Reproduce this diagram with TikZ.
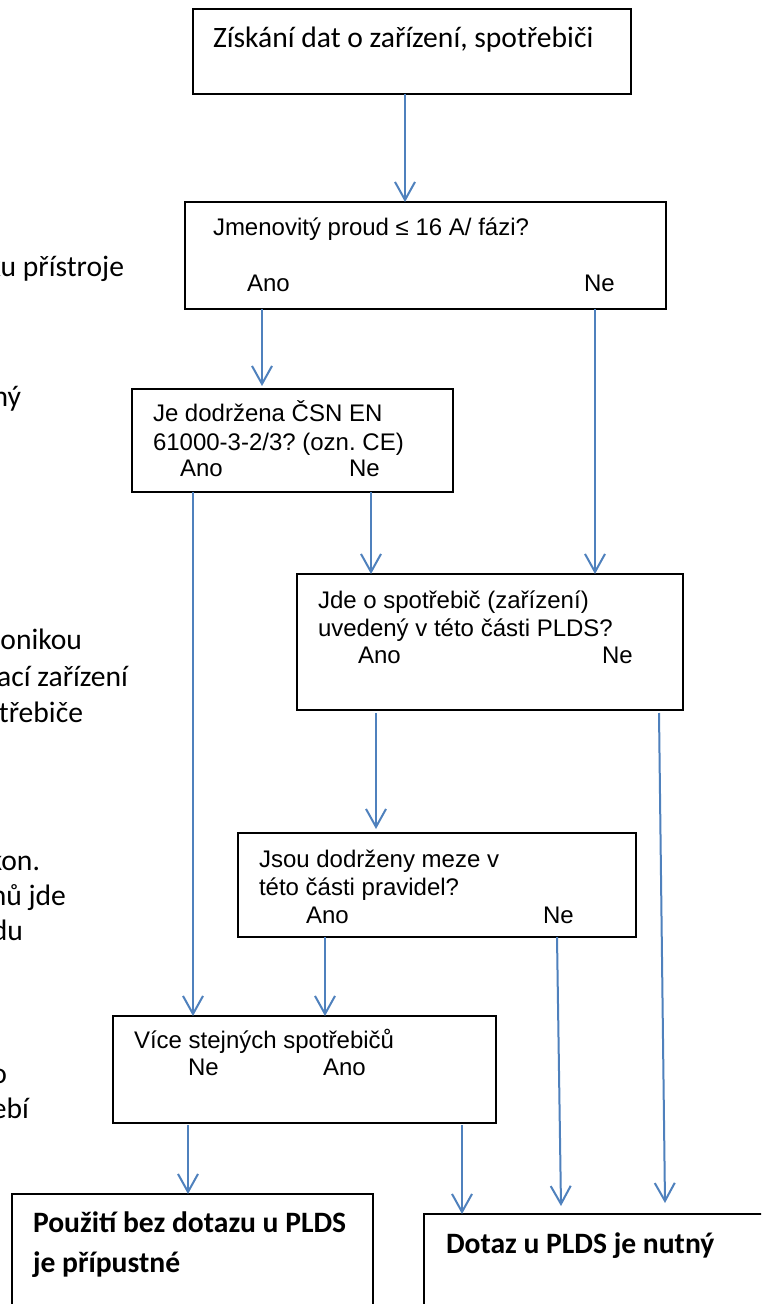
\documentclass[tikz,border=0pt]{standalone}
\usepackage{fontspec}
\setmainfont{Liberation Sans}
\newfontfamily\calfont{Carlito}
\usetikzlibrary{arrows.meta}
\definecolor{arrowblue}{RGB}{79,129,189}
\frenchspacing
\tikzset{
  bx/.style={draw=black, line width=1pt, inner sep=0pt, outer sep=0pt, fill=none},
  tx/.style={inner sep=0pt, outer sep=0pt, font=\frenchspacing\fontsize{12}{14}\selectfont, anchor=base west},
  ctx/.style={inner sep=0pt, outer sep=0pt, font=\frenchspacing\calfont\fontsize{14.8}{17}\selectfont, anchor=base west},
  cbx/.style={inner sep=0pt, outer sep=0pt, font=\frenchspacing\calfont\bfseries\fontsize{14.8}{17}\selectfont, anchor=base west},
  side/.style={inner sep=0pt, outer sep=0pt, font=\frenchspacing\calfont\fontsize{14.8}{17}\selectfont, anchor=base east},
  arr/.style={draw=arrowblue, line width=1pt, -{Straight Barb[length=9pt,width=10pt]}}
}
\begin{document}
\begin{tikzpicture}[x=0.5pt,y=-0.5pt]
\useasboundingbox (0,0) rectangle (761,1304);
\clip (0,0) rectangle (761,1304);
\fill[white] (0,0) rectangle (761,1304);

% boxes
\node[bx, minimum width=219pt, minimum height=42.5pt] (b1) at (412,51.5) {};
\node[bx, minimum width=240.5pt, minimum height=53.5pt] (b2) at (425.5,255.5) {};
\node[bx, minimum width=160.5pt, minimum height=51.5pt] (b3) at (292.5,440.5) {};
\node[bx, minimum width=193pt, minimum height=68pt] (b4) at (490,642) {};
\node[bx, minimum width=199pt, minimum height=52pt] (b5) at (437,885) {};
\node[bx, minimum width=191.5pt, minimum height=53.5pt] (b6) at (304.5,1069.5) {};
\node[bx, minimum width=180.5pt, minimum height=73pt] (b7) at (192.5,1267) {};
\node[bx, minimum width=188pt, minimum height=63pt] (b8) at (612,1277) {};

% texts in boxes
\node[ctx] (t1) at (213,48) {Získání dat o zařízení, spotřebiči};
\node[tx] (t2) at (213,236) {Jmenovitý proud ≤ 16 A/ fázi?};
\node[tx] (t2a) at (247,292) {Ano};
\node[tx] (t2n) at (584,292) {Ne};
\node[tx] (t3) at (153,422) {Je dodržena ČSN EN};
\node[tx] (t3b) at (153,451) {61000-3-2/3? (ozn. CE)};
\node[tx] (t3a) at (180,476) {Ano};
\node[tx] (t3n) at (349,476) {Ne};
\node[tx] (t4) at (318,608) {Jde o spotřebič (zařízení)};
\node[tx] (t4b) at (318,636) {uvedený v této části PLDS?};
\node[tx] (t4a) at (358,663) {Ano};
\node[tx] (t4n) at (602,663) {Ne};
\node[tx] (t5) at (259,867) {Jsou dodrženy meze v};
\node[tx] (t5b) at (259,895) {této části pravidel?};
\node[tx] (t5a) at (306,923) {Ano};
\node[tx] (t5n) at (543,923) {Ne};
\node[tx] (t6) at (134,1048) {Více stejných spotřebičů};
\node[tx] (t6n) at (188,1075) {Ne};
\node[tx] (t6a) at (323,1075) {Ano};
\node[cbx] (t7) at (33,1232) {Použití bez dotazu u PLDS};
\node[cbx] (t7b) at (33,1272) {je přípustné};
\node[cbx] (t8) at (446,1253) {Dotaz u PLDS je nutný};

% cut-off side texts (cropped at the left edge as in the reference)
\node[side] (s1) at (124,277) {ku přístroje};
\node[side] (s2) at (21,407) {ný};
\node[side] (s3) at (82,649) {onikou};
\node[side] (s4) at (128,686) {ací zařízení};
\node[side] (s5) at (83,722) {třebiče};
\node[side] (s6) at (40,870) {kon.};
\node[side] (s7) at (66,905) {nů jde};
\node[side] (s8) at (23,940) {du};
\node[side] (s9) at (7,1083) {o};
\node[side] (s10) at (29,1118) {ebí};

% x positions of connectors
\coordinate (xa) at (405,0);
\coordinate (xb) at (262,0);
\coordinate (xc) at (595,0);
\coordinate (xd) at (193,0);
\coordinate (xe) at (371,0);
\coordinate (xf) at (376,0);
\coordinate (xg1) at (659,0);
\coordinate (xg2) at (665,0);
\coordinate (xh) at (325,0);
\coordinate (xi1) at (557,0);
\coordinate (xi2) at (561,0);
\coordinate (xj) at (188,0);
\coordinate (xk) at (462,0);

% connectors
\draw[arr] (b1.south -| xa) -- (b2.north -| xa);
\draw[arr] (b2.south -| xb) -- ([yshift=1.5pt]b3.north -| xb);
\draw[arr] (b2.south -| xc) -- (b4.north -| xc);
\draw[arr] (b3.south -| xd) -- (b6.north -| xd);
\draw[arr] (b3.south -| xe) -- (b4.north -| xe);
\draw[arr] ([yshift=-1.5pt]b4.south -| xf) -- ([yshift=2pt]b5.north -| xf);
\draw[arr] ([yshift=-1.5pt]b4.south -| xg1) -- ([yshift=5.5pt]b8.north -| xg2);
\draw[arr] (b5.south -| xh) -- (b6.north -| xh);
\draw[arr] (b5.south -| xi1) -- ([yshift=4pt]b8.north -| xi2);
\draw[arr] ([yshift=-1pt]b6.south -| xj) -- (b7.north -| xj);
\draw[arr] ([yshift=-1pt]b6.south -| xk) -- (b8.north -| xk);
\end{tikzpicture}
\end{document}
